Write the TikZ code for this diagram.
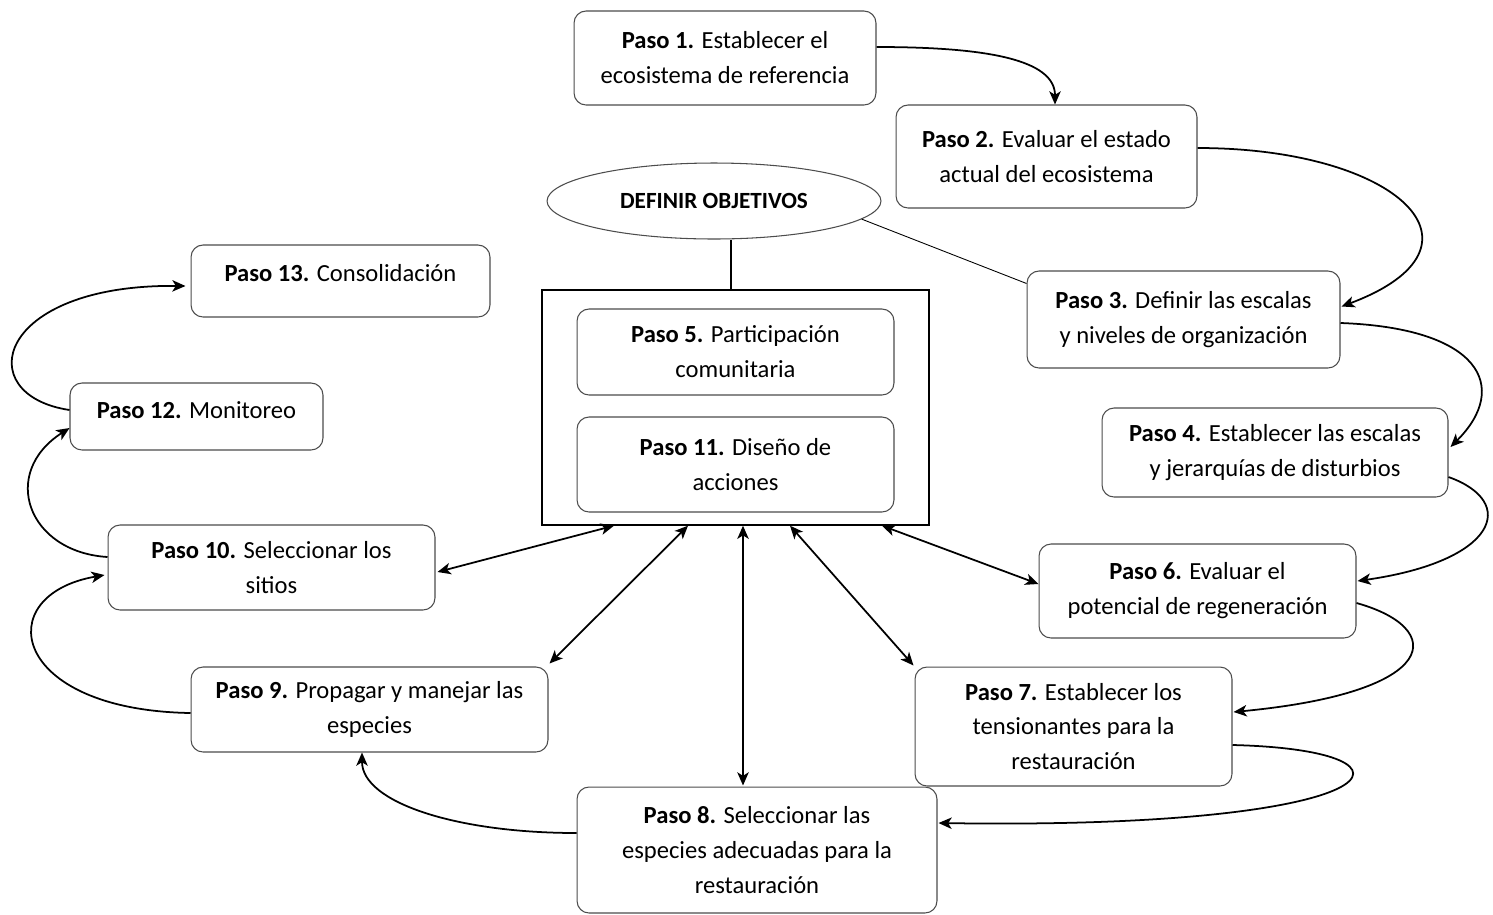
\documentclass[tikz,border=0pt]{standalone}
\usepackage{fontspec}
\setmainfont{Carlito}
\usepackage{tikz}
\usetikzlibrary{arrows.meta,shapes,calc}
\tikzstyle{paso}=[draw=black!70, line width=0.6pt, rounded corners=0.24cm,
                  align=center, inner sep=0pt, font=\fontsize{14}{19.9}\selectfont]
\tikzstyle{flecha}=[->, line width=1pt]
\tikzstyle{doble}=[<->, line width=1pt]

\begin{document}
\begin{tikzpicture}[x=0.02cm, y=-0.02cm, >={Stealth[length=7.5pt,width=6.5pt,inset=2pt]}]
  \useasboundingbox (0,0) rectangle (1493,914);
  % marco central
  \node[draw, line width=0.8pt, minimum width=7.74cm, minimum height=4.7cm] (marco) at (735.5,407.5) {};
  \node[draw=black!70, line width=0.6pt, ellipse, minimum width=6.68cm, minimum height=1.52cm,
        inner sep=0pt, font=\fontsize{13.2}{15}\selectfont\bfseries] (obj) at (714,201) {DEFINIR OBJETIVOS};
  \node[paso, minimum width=6.04cm, minimum height=1.88cm] (p1) at (725,58) {\textbf{Paso 1.} Establecer el\\ecosistema de referencia};
  \node[paso, minimum width=6.02cm, minimum height=2.06cm] (p2) at (1046.5,156.5) {\textbf{Paso 2.} Evaluar el estado\\actual del ecosistema};
  \node[paso, minimum width=6.26cm, minimum height=1.94cm] (p3) at (1183.5,319.5) {\textbf{Paso 3.} Definir las escalas\\y niveles de organización};
  \node[paso, minimum width=6.92cm, minimum height=1.78cm] (p4) at (1275,452.5) {\textbf{Paso 4.} Establecer las escalas\\y jerarquías de disturbios};
  \node[paso, minimum width=6.34cm, minimum height=1.72cm] (p5) at (735.5,352) {\textbf{Paso 5.} Participación\\comunitaria};
  \node[paso, minimum width=6.34cm, minimum height=1.88cm] (p6) at (1197.5,591) {\textbf{Paso 6.} Evaluar el\\potencial de regeneración};
  \node[paso, minimum width=6.34cm, minimum height=2.38cm] (p7) at (1073.5,726.5) {\textbf{Paso 7.} Establecer los\\tensionantes para la\\restauración};
  \node[paso, minimum width=7.2cm, minimum height=2.52cm] (p8) at (757,850) {\textbf{Paso 8.} Seleccionar las\\especies adecuadas para la\\restauración};
  \node[paso, minimum width=7.14cm, minimum height=1.7cm] (p9) at (369.5,709.5) {\textbf{Paso 9.} Propagar y manejar las\\especies};
  \node[paso, minimum width=6.54cm, minimum height=1.7cm] (p10) at (271.5,567.5) {\textbf{Paso 10.} Seleccionar los\\sitios};
  \node[paso, minimum width=6.34cm, minimum height=1.9cm] (p11) at (735.5,464.5) {\textbf{Paso 11.} Diseño de\\acciones};
  \node[paso, minimum width=5.06cm, minimum height=1.34cm, text depth=0.26cm] (p12) at (196.5,416.5) {\textbf{Paso 12.} Monitoreo};
  \node[paso, minimum width=5.98cm, minimum height=1.44cm, text depth=0.32cm] (p13) at (340.5,281) {\textbf{Paso 13.} Consolidación};

  \draw[line width=0.6pt] ($(marco.north)+(-4.5,0)$) -- ($(obj.south)+(17,0)$);
  \draw[line width=0.5pt] (obj.-7) -- ($(p3.north west)+(0,13)$);

  % ciclo de pasos
  \draw[flecha] ($(p1.east)+(0,-11)$) .. controls +(110,0) and +(0,-45) .. ($(p2.north)+(8.5,0)$);
  \draw[flecha] ($(p2.east)+(0,-8.5)$) .. controls +(200,0) and +(160,-60) .. ($(p3.east)+(1,-13)$);
  \draw[flecha] ($(p3.east)+(0,3.5)$) .. controls +(140,5) and +(60,-60) .. ($(p4.east)+(2,-5.5)$);
  \draw[flecha] ($(p4.east)+(0,24.5)$) .. controls +(70,25) and +(140,-20) .. ($(p6.east)+(1,-10)$);
  \draw[flecha] ($(p6.east)+(0,12)$) .. controls +(90,25) and +(210,-20) .. ($(p7.east)+(1,-14.5)$);
  \draw[flecha] ($(p7.east)+(0,18.5)$) .. controls +(208,5) and +(462,7) .. ($(p8.east)+(1,-27)$);
  \draw[flecha] ($(p8.west)+(0,-17)$) .. controls +(-120,0) and +(0,50) .. ($(p9.south)+(-7.5,0)$);
  \draw[flecha] ($(p9.west)+(0,3.5)$) .. controls +(-181,-3) and +(-115,20) .. ($(p10.west)+(-3,7.5)$);
  \draw[flecha] ($(p10.west)+(0,-10.5)$) .. controls +(-80,-5) and +(-70,45) .. ($(p12.west)+(0,11.5)$);
  \draw[flecha] ($(p12.west)+(0,-6.5)$) .. controls +(-100,-15) and +(-190,-2) .. ($(p13.west)+(-5,5)$);

  % relaciones con el marco
  \draw[doble] ($(marco.south)+(-121.5,0)$) -- ($(p10.east)+(2,4.5)$);
  \draw[doble] ($(marco.south)+(-47.5,0)$) -- ($(p9.north east)+(1,-3)$);
  \draw[doble] ($(marco.south)+(7.5,0)$) -- ($(p8.north)+(-14,-1)$);
  \draw[doble] ($(marco.south)+(54.5,0)$) -- ($(p7.north west)+(-1,-1)$);
  \draw[doble] ($(marco.south)+(146.5,0)$) -- ($(p6.west)+(0,-7)$);
\end{tikzpicture}
\end{document}
